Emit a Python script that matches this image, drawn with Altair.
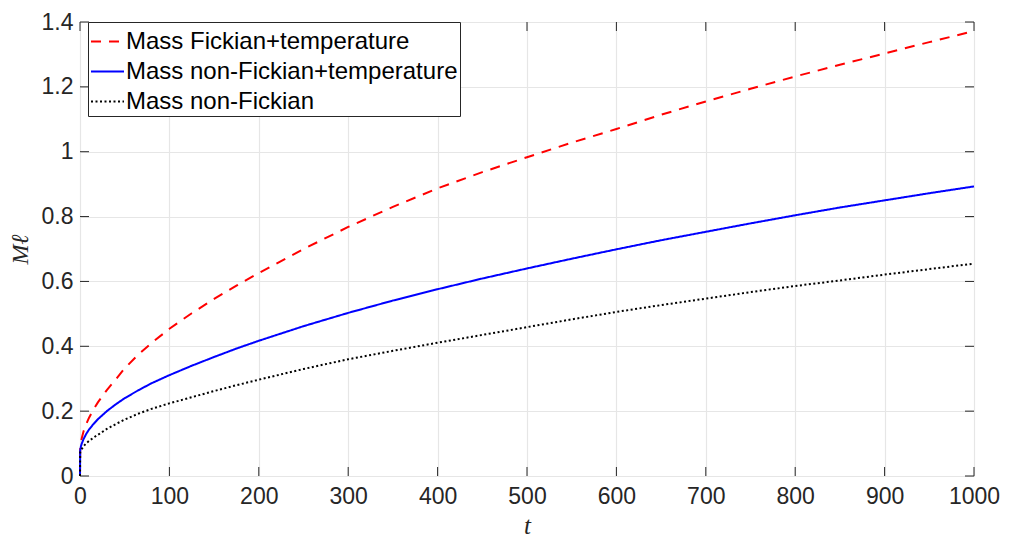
import altair as alt
import pandas as pd

t_vals = [0, 0.2, 1, 2, 4, 7, 10, 15, 20, 30, 40, 50, 65, 80, 100, 125, 150, 175, 200,
          250, 300, 350, 400, 450, 500, 550, 600, 650, 700, 750, 800, 850, 900, 950, 1000]
red_vals = [0, 0.082, 0.103, 0.117, 0.138, 0.16, 0.179, 0.205, 0.227, 0.265, 0.298, 0.332, 0.374, 0.41, 0.454,
            0.502, 0.546, 0.587, 0.626, 0.700, 0.768, 0.83, 0.887, 0.937, 0.983, 1.028, 1.07, 1.114, 1.155,
            1.194, 1.232, 1.268, 1.303, 1.338, 1.372]
blue_vals = [0, 0.078, 0.091, 0.1, 0.114, 0.13, 0.143, 0.16, 0.175, 0.2, 0.221, 0.24, 0.264, 0.286, 0.311,
             0.34, 0.367, 0.393, 0.417, 0.462, 0.503, 0.541, 0.576, 0.609, 0.640, 0.670, 0.699, 0.727, 0.753,
             0.779, 0.804, 0.828, 0.850, 0.872, 0.893]
black_vals = [0, 0.073, 0.078, 0.083, 0.092, 0.101, 0.108, 0.118, 0.127, 0.145, 0.16, 0.174, 0.192, 0.207, 0.224,
              0.243, 0.262, 0.28, 0.297, 0.33, 0.36, 0.386, 0.411, 0.435, 0.459, 0.483, 0.506, 0.527, 0.547,
              0.567, 0.586, 0.603, 0.621, 0.638, 0.655]

series_names = ["Mass Fickian+temperature", "Mass non-Fickian+temperature", "Mass non-Fickian"]
series_colors = ["#ff0000", "#0000ff", "#000000"]
series_dashes = [[10, 8], [1, 0], [2, 2.5]]

x_ticks = [0, 100, 200, 300, 400, 500, 600, 700, 800, 900, 1000]
y_ticks = [0, 0.2, 0.4, 0.6, 0.8, 1.0, 1.2, 1.4]

W, H = 894, 454

rows = []
for name, vals in zip(series_names, [red_vals, blue_vals, black_vals]):
    for t, v in zip(t_vals, vals):
        rows.append({"t": t, "M": v, "series": name})
df = pd.DataFrame(rows)
df_xt = pd.DataFrame({"t": x_ticks})
df_yt = pd.DataFrame({"M": y_ticks})

xscale = alt.Scale(domain=[0, 1000], nice=False, zero=False)
yscale = alt.Scale(domain=[0, 1.4], nice=False, zero=False)

label_font = "Liberation Sans"

x_axis = alt.Axis(values=x_ticks, grid=True, gridColor="#e6e6e6", gridWidth=1.2,
                  domain=False, ticks=False, labelFont=label_font, labelFontSize=23,
                  labelColor="#262626", labelPadding=9, labelFlush=False, labelOverlap=False,
                  format="d", title="t",
                  titleFont="Liberation Serif", titleFontStyle="italic", titleFontWeight="normal",
                  titleFontSize=25, titleColor="#262626", titlePadding=5)
y_axis = alt.Axis(values=y_ticks, grid=True, gridColor="#e6e6e6", gridWidth=1.2,
                  domain=False, ticks=False, labelFont=label_font, labelFontSize=23,
                  labelColor="#262626", labelPadding=7, labelFlush=False, labelOverlap=False,
                  format="~g", title="M\u2113",
                  titleFont="Liberation Serif", titleFontStyle="italic", titleFontWeight="normal",
                  titleFontSize=24, titleColor="#262626", titlePadding=9)

legend_kw = dict(title=None, orient="none", legendX=8, legendY=0,
                 fillColor="white", strokeColor="#262626", padding=2,
                 symbolType="stroke", symbolSize=1089, symbolStrokeWidth=2,
                 labelFont=label_font, labelFontSize=24, labelColor="#000000",
                 labelOffset=1, labelLimit=600, rowPadding=0)

lines = alt.Chart(df).mark_line(strokeWidth=2).encode(
    x=alt.X("t:Q", scale=xscale, axis=x_axis),
    y=alt.Y("M:Q", scale=yscale, axis=y_axis),
    color=alt.Color("series:N", scale=alt.Scale(domain=series_names, range=series_colors),
                    legend=alt.Legend(**legend_kw)),
    strokeDash=alt.StrokeDash("series:N", scale=alt.Scale(domain=series_names, range=series_dashes),
                              legend=alt.Legend(**legend_kw)),
    order=alt.Order("t:Q"),
)

tick_color = "#262626"
xt_bottom = alt.Chart(df_xt).mark_rule(color=tick_color, strokeWidth=1).encode(
    x=alt.X("t:Q", scale=xscale), y=alt.value(H), y2=alt.value(H - 9))
xt_top = alt.Chart(df_xt).mark_rule(color=tick_color, strokeWidth=1).encode(
    x=alt.X("t:Q", scale=xscale), y=alt.value(0), y2=alt.value(9))
yt_left = alt.Chart(df_yt).mark_rule(color=tick_color, strokeWidth=1).encode(
    y=alt.Y("M:Q", scale=yscale), x=alt.value(0), x2=alt.value(9))
yt_right = alt.Chart(df_yt).mark_rule(color=tick_color, strokeWidth=1).encode(
    y=alt.Y("M:Q", scale=yscale), x=alt.value(W), x2=alt.value(W - 9))

chart = alt.layer(xt_bottom, xt_top, yt_left, yt_right, lines).properties(
    width=W, height=H,
    autosize=alt.AutoSizeParams(type="none"),
    padding={"left": 72, "top": 14, "right": 27, "bottom": 62},
).configure_view(stroke="#6e6e6e", strokeWidth=1.4).configure(background="white")

chart.save("out.html", embed_options={"renderer": "svg", "actions": False})
